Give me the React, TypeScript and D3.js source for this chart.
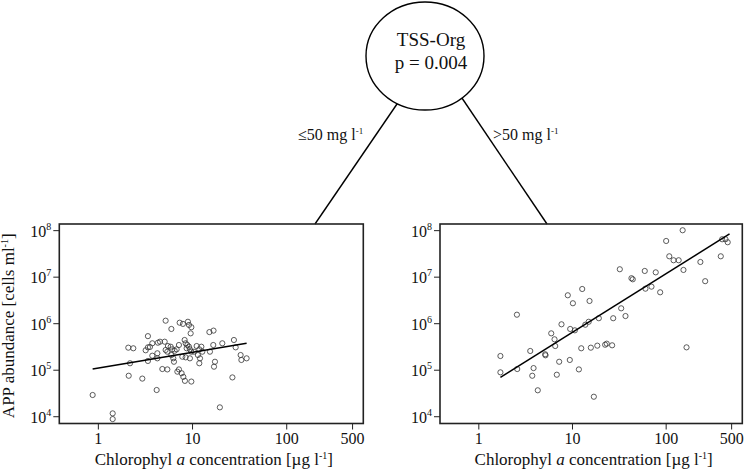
import React from "react";
import * as d3 from "d3";

// ---- Data ----
const leftChl = [0.87, 1.42, 1.42, 2.08, 2.35, 2.17, 2.10, 2.93, 3.36, 3.18, 3.36, 3.53, 3.74, 3.74, 3.36, 4.16, 4.23, 4.23, 4.29, 4.51,
  5.06, 4.78, 5.40, 5.18, 5.96, 5.48, 5.86, 6.10, 6.46, 6.78, 5.18, 5.40, 5.96, 6.25, 6.35, 7.30, 7.91, 8.93, 9.16, 9.71,
  9.55, 8.24, 8.45, 8.81, 9.16, 8.66, 9.38, 9.71, 7.79, 8.45, 9.38, 7.17, 6.90, 7.66, 7.98, 8.30, 9.71, 11.06, 12.4, 11.8,
  11.4, 12.0, 11.8, 15.1, 16.7, 15.3, 16.6, 17.3, 16.9, 19.5, 20.7, 26.5, 27.5, 28.7, 32.4, 33.0, 37.5, 7.17, 10.35, 12.7];
const leftApp = [2.93e4, 1.18e4, 8.9e3, 3.05e5, 2.96e5, 1.41e5, 7.6e4, 6.6e4, 5.4e5, 2.68e5, 3.1e5, 3.16e5, 3.79e5, 2.05e5, 1.58e5, 3.75e4, 2.31e5, 1.8e5, 3.9e5, 4.1e5,
  4.1e5, 1.06e5, 1.04e5, 1.16e6, 7.7e5, 3.31e5, 3.2e5, 2.81e5, 2.62e5, 2.81e5, 2.72e5, 2.5e5, 2.12e5, 1.8e5, 1.52e5, 1.05e6, 9.9e5, 1.1e6, 9.4e5, 8.4e5,
  6.2e5, 4.46e5, 3.79e5, 3.48e5, 3.2e5, 2.96e5, 2.81e5, 2.5e5, 1.95e5, 1.89e5, 1.8e5, 1.04e5, 9.3e4, 8.6e4, 7.2e4, 5.9e4, 5.7e4, 3.31e5, 3.2e5, 2.81e5,
  2.12e5, 1.8e5, 1.41e5, 6.6e5, 7.1e5, 2.5e5, 3.48e5, 1.52e5, 1.19e5, 1.59e4, 3.79e5, 7.0e4, 4.46e5, 3.1e5, 2.12e5, 1.66e5, 1.8e5, 3.48e5, 2.5e5, 2.5e5];

const rightChl = [1.70, 1.70, 2.55, 2.57, 3.54, 3.72, 3.84, 4.26, 5.11, 5.15, 5.93, 6.43, 6.54, 6.80, 7.21, 7.63, 8.91, 9.45, 9.36, 10.1,
  10.6, 11.7, 12.4, 12.7, 13.7, 14.9, 15.2, 15.7, 16.9, 18.4, 19.1, 22.3, 23.2, 26.5, 27.2, 32.0, 33.1, 36.8, 42.6, 44.0,
  59.1, 60.1, 69.7, 77.4, 86.3, 100, 108, 120, 136, 150, 153, 165, 232, 261, 383, 396, 430, 454];
const rightApp = [2.02e5, 9.0e4, 1.56e6, 1.06e5, 2.59e5, 7.6e4, 1.11e5, 3.7e4, 2.2e5, 2.09e5, 6.2e5, 4.62e5, 3.31e5, 8.0e4, 1.52e5, 9.7e5, 4.08e6, 7.7e5, 1.66e5, 2.75e6,
  7.2e5, 1.04e5, 2.96e5, 5.57e6, 9.5e5, 1.1e6, 3.08e6, 3.05e5, 2.69e4, 3.37e5, 1.31e6, 3.53e5, 3.72e5, 3.43e5, 1.31e6, 1.48e7, 2.14e6, 1.46e6, 9.5e6, 9.0e6,
  1.36e7, 5.66e6, 6.25e6, 1.27e7, 4.73e6, 6.0e7, 2.81e7, 2.31e7, 2.31e7, 1.02e8, 1.43e7, 3.1e5, 2.12e7, 8.2e6, 2.81e7, 6.53e7, 6.53e7, 5.63e7];

// log10(APP) = intercept + slope * log10(Chl)
const leftFit = [5.046, 0.338];
const leftFitRange = [0.87, 37.5];
const rightFit = [4.554, 1.261];
const rightFitRange = [1.7, 475];

const xTicks = [1, 10, 100, 500];
const yTickExps = [4, 5, 6, 7, 8];

const nodeTitle = "TSS-Org";
const nodeP = "p = 0.004";
const leftBranch = "\u226450 mg l";
const rightBranch = ">50 mg l";

const FONT = "'Liberation Serif', 'Times New Roman', serif";
const INK = "#111";

const top = 224;
const bottom = 423.5;

function Panel({ left, right, xs, ys, fit, fitRange, showYTitle }: any) {
  const x = d3.scaleLog().domain([0.385, 650]).range([left, right]);
  const y = d3.scaleLog().domain([7.15e3, 1.39e8]).range([bottom, top]);
  const lineGen = d3
    .line<number>()
    .x((d) => x(d))
    .y((d) => y(Math.pow(10, fit[0] + fit[1] * Math.log10(d))));
  const cx = (left + right) / 2 + 2.5;
  return (
    <g>
      {xs.map((v: number, i: number) => (
        <circle key={i} cx={x(v)} cy={y(ys[i])} r={2.6} fill="none" stroke="#333" strokeWidth={0.8} />
      ))}
      <path d={lineGen(fitRange) || ""} stroke="#000" strokeWidth={1.5} fill="none" />
      <rect x={left} y={top} width={right - left} height={bottom - top} fill="none" stroke="#222" strokeWidth={1.6} />
      {xTicks.map((t) => (
        <g key={t}>
          <line x1={x(t)} x2={x(t)} y1={bottom} y2={bottom + 6} stroke="#222" strokeWidth={1} />
          <text x={x(t)} y={444} textAnchor="middle" fontSize={16} fontFamily={FONT} fill={INK}>
            {t}
          </text>
        </g>
      ))}
      {yTickExps.map((e) => (
        <g key={e}>
          <line x1={left - 6} x2={left} y1={y(Math.pow(10, e))} y2={y(Math.pow(10, e))} stroke="#222" strokeWidth={1} />
          <text x={left - 8} y={y(Math.pow(10, e)) + 6} textAnchor="end" fontSize={16} fontFamily={FONT} fill={INK}>
            10
            <tspan dy={-7} fontSize={10}>
              {e}
            </tspan>
          </text>
        </g>
      ))}
      <text x={cx} y={465} textAnchor="middle" fontSize={17} fontFamily={FONT} fill={INK}>
        Chlorophyl <tspan fontStyle="italic">a</tspan> concentration [{"\u00b5"}g l
        <tspan dy={-6} fontSize={10}>
          -1
        </tspan>
        <tspan dy={6}>]</tspan>
      </text>
      {showYTitle && (
        <text
          transform={`translate(14, ${(top + bottom) / 2 + 2}) rotate(-90)`}
          textAnchor="middle"
          fontSize={17}
          fontFamily={FONT}
          fill={INK}
        >
          APP abundance [cells ml
          <tspan dy={-6} fontSize={10}>
            -1
          </tspan>
          <tspan dy={6}>]</tspan>
        </text>
      )}
    </g>
  );
}

export default function App() {
  const ecx = 425;
  const ecy = 56;
  return (
    <svg width={745} height={469} style={{ position: "absolute", left: 0, top: 0, background: "#fff" }}>
      <rect x={0} y={0} width={745} height={469} fill="#fff" />
      {/* tree branches (drawn under the node, which clips them) */}
      <line x1={315} y1={224} x2={413.4} y2={80} stroke="#000" strokeWidth={1.4} />
      <line x1={547} y1={224} x2={449.8} y2={80} stroke="#000" strokeWidth={1.4} />
      <ellipse cx={ecx} cy={ecy} rx={59} ry={54} fill="#fff" stroke="#000" strokeWidth={1.4} />
      <text x={431} y={46} textAnchor="middle" fontSize={19} fontFamily={FONT} fill={INK}>
        {nodeTitle}
      </text>
      <text x={431} y={69} textAnchor="middle" fontSize={19} fontFamily={FONT} fill={INK}>
        {nodeP}
      </text>
      <text x={298} y={140} fontSize={16} fontFamily={FONT} fill={INK}>
        {leftBranch}
        <tspan dy={-6} fontSize={9}>
          -1
        </tspan>
      </text>
      <text x={493} y={140} fontSize={16} fontFamily={FONT} fill={INK}>
        {rightBranch}
        <tspan dy={-6} fontSize={9}>
          -1
        </tspan>
      </text>
      <Panel left={59.3} right={363.3} xs={leftChl} ys={leftApp} fit={leftFit} fitRange={leftFitRange} showYTitle />
      <Panel left={440} right={742.3} xs={rightChl} ys={rightApp} fit={rightFit} fitRange={rightFitRange} showYTitle={false} />
    </svg>
  );
}
